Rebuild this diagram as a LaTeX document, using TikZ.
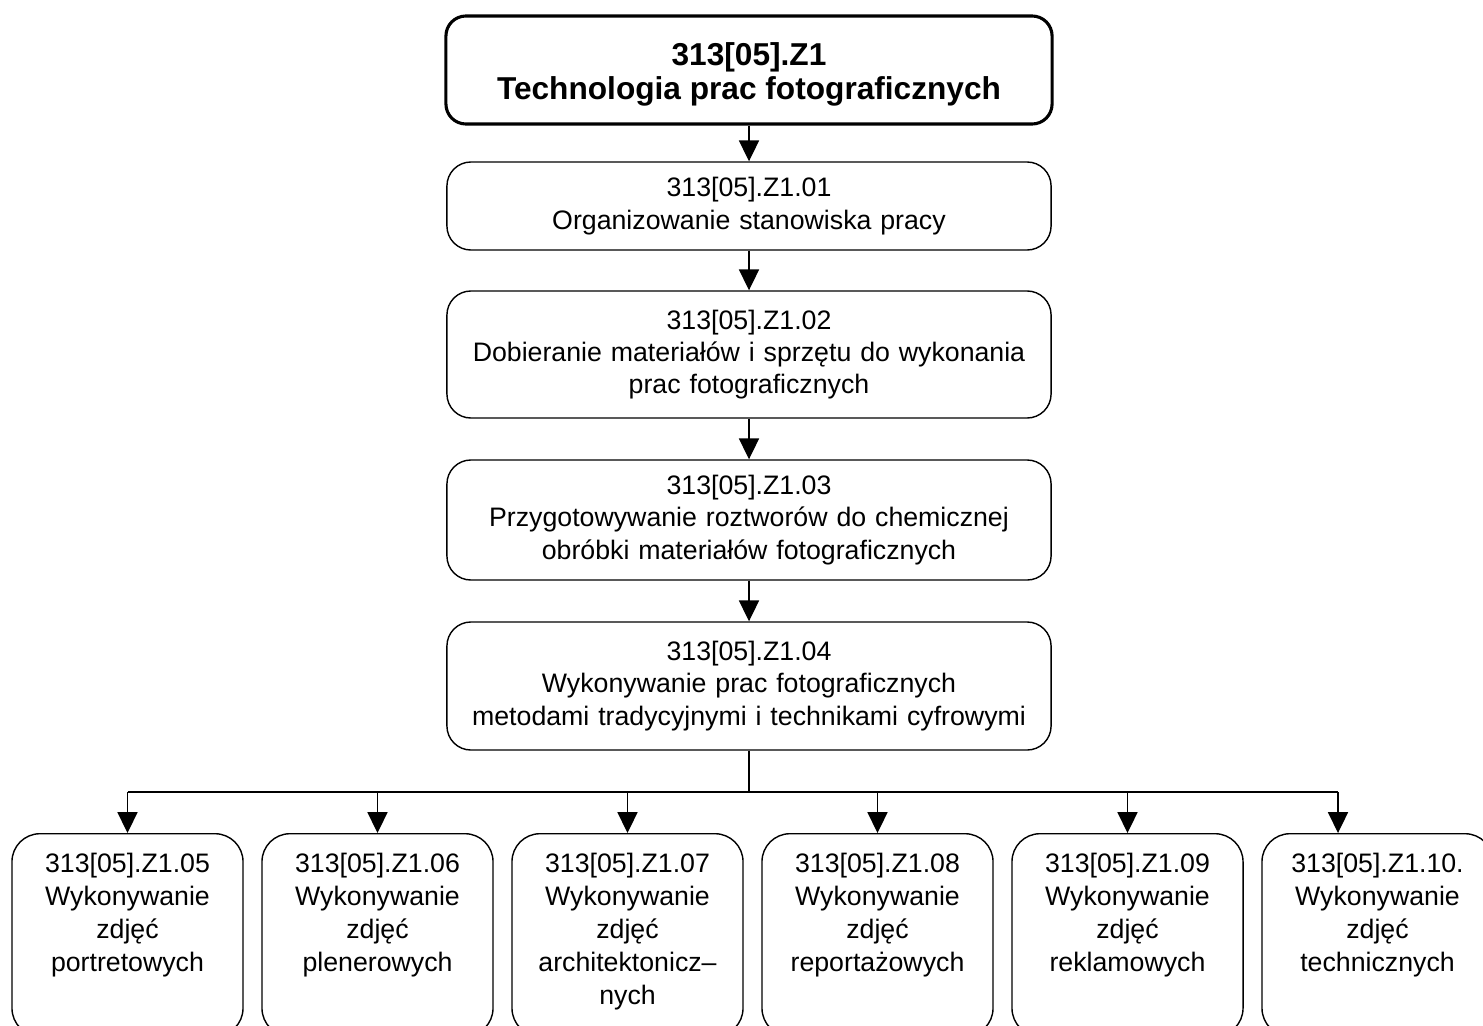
\documentclass[tikz,border=0pt]{standalone}
\usepackage{fontspec}
\setmainfont{Liberation Sans}
\usetikzlibrary{arrows.meta}

\newcommand{\modtext}[1]{\parbox[t][4.1cm][t]{5.5cm}{\centering #1}}
\newcommand{\titletext}[1]{\raisebox{-0.15cm}[\height][\depth]{\begin{tabular}{@{}c@{}}#1\end{tabular}}}

\begin{document}
\begin{tikzpicture}[x=0.025cm, y=-0.025cm,
  every node/.style={font=\fontsize{19}{23}\selectfont},
  titlebox/.style={draw, line width=2.2pt, rounded corners=0.5cm, minimum width=15.15cm,
    minimum height=2.7cm, inner sep=0pt, font=\fontsize{22.5}{24.2}\selectfont\bfseries},
  unitbox/.style={draw, line width=1pt, rounded corners=0.6cm, minimum width=15.1cm,
    align=center, text width=14.6cm},
  modbox/.style={draw, line width=1pt, rounded corners=0.7cm, minimum width=5.775cm,
    inner xsep=0pt, inner ysep=0.48cm, anchor=north,
    font=\fontsize{19}{23.5}\selectfont},
  arr/.style={-{Triangle[width=0.5cm,length=0.52cm]}, line width=1pt}]

  \useasboundingbox (0,0) rectangle (1483,1025);
  \clip (0,0) rectangle (1483,1025);

  % main chain
  \node[titlebox] (tpf) at (749,70)
    {\titletext{313[05].Z1\\Technologia prac fotograficznych}};
  \node[unitbox, minimum height=2.2cm] (u1) at (749,206)
    {313[05].Z1.01\\Organizowanie stanowiska pracy};
  \node[unitbox, minimum height=3.175cm] (u2) at (749,354.5)
    {313[05].Z1.02\\Dobieranie materiałów i sprzętu do wykonania\\prac fotograficznych};
  \node[unitbox, minimum height=3cm] (u3) at (749,520)
    {313[05].Z1.03\\Przygotowywanie roztworów do chemicznej\\obróbki materiałów fotograficznych};
  \node[unitbox, minimum height=3.2cm] (u4) at (749,686)
    {313[05].Z1.04\\Wykonywanie prac fotograficznych\\metodami tradycyjnymi i technikami cyfrowymi};
  \foreach \a/\b in {tpf/u1,u1/u2,u2/u3,u3/u4} \draw[arr] (\a) -- (\b);

  % modules
  \foreach \n/\x/\txt in {05/127.5/{313[05].Z1.05\\Wykonywanie\\zdjęć\\portretowych},
      06/377.5/{313[05].Z1.06\\Wykonywanie\\zdjęć\\plenerowych},
      07/627.5/{313[05].Z1.07\\Wykonywanie\\zdjęć\\architektonicz–\\nych},
      08/877.5/{313[05].Z1.08\\Wykonywanie\\zdjęć\\reportażowych},
      09/1127.5/{313[05].Z1.09\\Wykonywanie\\zdjęć\\reklamowych},
      10/1377.5/{313[05].Z1.10.\\Wykonywanie\\zdjęć\\technicznych}}
    \node[modbox] (m\n) at (\x,833) {\modtext{\txt}};

  \coordinate (bus) at (749,792);
  \coordinate (busR) at (1338,792);
  \draw[line width=1pt] (u4.south) -- (bus);
  \draw[line width=1pt] (m05.north |- bus) -- (busR);
  \foreach \n in {05,06,07,08,09} \draw[arr] (m\n.north |- bus) -- (m\n.north);
  \draw[arr] (busR) -- (busR |- m10.north);
\end{tikzpicture}
\end{document}
